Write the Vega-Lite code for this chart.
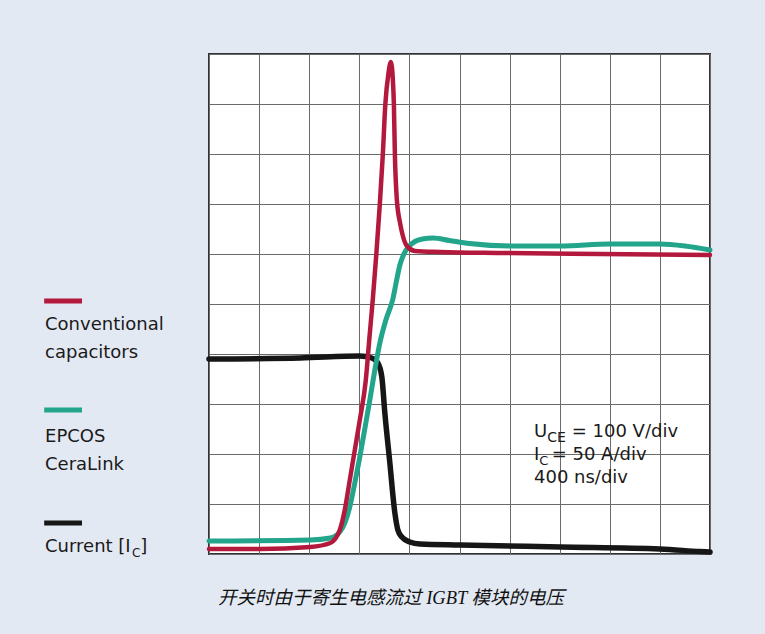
{
  "$schema": "https://vega.github.io/schema/vega-lite/v6.json",
  "width": 501,
  "height": 500,
  "autosize": {"type": "none"},
  "padding": {"left": 209, "top": 54, "right": 55, "bottom": 80},
  "background": "#e3e9f3",
  "config": {
    "view": {"fill": "#ffffff", "stroke": "#333333", "strokeWidth": 2},
    "axis": {"grid": true, "gridColor": "#6a6a6a", "gridWidth": 1, "gridOpacity": 1, "labels": false, "ticks": false, "domain": false, "title": null},
    "text": {"font": "DejaVu Sans", "fontSize": 18, "color": "#1a1a1a", "align": "left", "baseline": "middle"}
  },
  "datasets": {
    "traces": [
      {"series": "Current", "x": 0, "y": 3.9},
      {"series": "Current", "x": 1.82, "y": 3.92},
      {"series": "Current", "x": 3.01, "y": 3.96},
      {"series": "Current", "x": 3.25, "y": 3.92},
      {"series": "Current", "x": 3.37, "y": 3.82},
      {"series": "Current", "x": 3.45, "y": 3.54},
      {"series": "Current", "x": 3.51, "y": 2.82},
      {"series": "Current", "x": 3.61, "y": 1.82},
      {"series": "Current", "x": 3.71, "y": 0.82},
      {"series": "Current", "x": 3.77, "y": 0.48},
      {"series": "Current", "x": 3.85, "y": 0.34},
      {"series": "Current", "x": 4.01, "y": 0.24},
      {"series": "Current", "x": 4.21, "y": 0.2},
      {"series": "Current", "x": 5.01, "y": 0.18},
      {"series": "Current", "x": 7.01, "y": 0.14},
      {"series": "Current", "x": 9.0, "y": 0.1},
      {"series": "Current", "x": 9.8, "y": 0.05},
      {"series": "Current", "x": 10.0, "y": 0.04},

      {"series": "CeraLink", "x": 0, "y": 0.26},
      {"series": "CeraLink", "x": 2.02, "y": 0.28},
      {"series": "CeraLink", "x": 2.42, "y": 0.32},
      {"series": "CeraLink", "x": 2.61, "y": 0.44},
      {"series": "CeraLink", "x": 2.71, "y": 0.62},
      {"series": "CeraLink", "x": 2.81, "y": 0.94},
      {"series": "CeraLink", "x": 2.91, "y": 1.42},
      {"series": "CeraLink", "x": 3.01, "y": 1.94},
      {"series": "CeraLink", "x": 3.13, "y": 2.62},
      {"series": "CeraLink", "x": 3.21, "y": 3.08},
      {"series": "CeraLink", "x": 3.31, "y": 3.68},
      {"series": "CeraLink", "x": 3.41, "y": 4.22},
      {"series": "CeraLink", "x": 3.53, "y": 4.68},
      {"series": "CeraLink", "x": 3.67, "y": 5.1},
      {"series": "CeraLink", "x": 3.74, "y": 5.45},
      {"series": "CeraLink", "x": 3.81, "y": 5.78},
      {"series": "CeraLink", "x": 3.89, "y": 6.0},
      {"series": "CeraLink", "x": 3.99, "y": 6.15},
      {"series": "CeraLink", "x": 4.11, "y": 6.25},
      {"series": "CeraLink", "x": 4.26, "y": 6.3},
      {"series": "CeraLink", "x": 4.47, "y": 6.32},
      {"series": "CeraLink", "x": 4.8, "y": 6.27},
      {"series": "CeraLink", "x": 5.2, "y": 6.21},
      {"series": "CeraLink", "x": 6.01, "y": 6.16},
      {"series": "CeraLink", "x": 7.01, "y": 6.16},
      {"series": "CeraLink", "x": 8.0, "y": 6.2},
      {"series": "CeraLink", "x": 9.0, "y": 6.2},
      {"series": "CeraLink", "x": 9.5, "y": 6.16},
      {"series": "CeraLink", "x": 10.0, "y": 6.08},

      {"series": "Conventional", "x": 0, "y": 0.1},
      {"series": "Conventional", "x": 1.02, "y": 0.1},
      {"series": "Conventional", "x": 2.02, "y": 0.14},
      {"series": "Conventional", "x": 2.42, "y": 0.22},
      {"series": "Conventional", "x": 2.61, "y": 0.48},
      {"series": "Conventional", "x": 2.71, "y": 0.88},
      {"series": "Conventional", "x": 2.81, "y": 1.48},
      {"series": "Conventional", "x": 2.91, "y": 2.08},
      {"series": "Conventional", "x": 3.01, "y": 2.68},
      {"series": "Conventional", "x": 3.13, "y": 3.48},
      {"series": "Conventional", "x": 3.2, "y": 4.3},
      {"series": "Conventional", "x": 3.27, "y": 5.1},
      {"series": "Conventional", "x": 3.34, "y": 6.0},
      {"series": "Conventional", "x": 3.41, "y": 7.0},
      {"series": "Conventional", "x": 3.47, "y": 8.0},
      {"series": "Conventional", "x": 3.52, "y": 9.0},
      {"series": "Conventional", "x": 3.58, "y": 9.6},
      {"series": "Conventional", "x": 3.63, "y": 9.84},
      {"series": "Conventional", "x": 3.67, "y": 9.48},
      {"series": "Conventional", "x": 3.69, "y": 9.0},
      {"series": "Conventional", "x": 3.71, "y": 8.0},
      {"series": "Conventional", "x": 3.75, "y": 7.08},
      {"series": "Conventional", "x": 3.81, "y": 6.64},
      {"series": "Conventional", "x": 3.87, "y": 6.36},
      {"series": "Conventional", "x": 3.95, "y": 6.16},
      {"series": "Conventional", "x": 4.11, "y": 6.06},
      {"series": "Conventional", "x": 4.61, "y": 6.04},
      {"series": "Conventional", "x": 5.81, "y": 6.02},
      {"series": "Conventional", "x": 7.8, "y": 6.0},
      {"series": "Conventional", "x": 10.0, "y": 5.98}
    ]
  },
  "layer": [
    {
      "data": {"name": "traces"},
      "mark": {"type": "line", "interpolate": "monotone", "strokeCap": "round", "strokeJoin": "round"},
      "encoding": {
        "x": {"field": "x", "type": "quantitative", "scale": {"domain": [0, 10], "nice": false, "zero": false}, "axis": {"values": [0,1,2,3,4,5,6,7,8,9,10]}},
        "y": {"field": "y", "type": "quantitative", "scale": {"domain": [0, 10], "nice": false, "zero": false}, "axis": {"values": [0,1,2,3,4,5,6,7,8,9,10]}},
        "color": {"field": "series", "type": "nominal", "scale": {"domain": ["Conventional", "CeraLink", "Current"], "range": ["#b3193d", "#22a58b", "#161616"]}, "legend": null},
        "strokeWidth": {"field": "series", "type": "nominal", "scale": {"domain": ["Conventional", "CeraLink", "Current"], "range": [4.5, 5.5, 4.5]}, "legend": null},
        "order": {"field": "x", "type": "quantitative"},
        "detail": {"field": "series"}
      }
    },
    {
      "data": {"values": [{}]},
      "mark": {"type": "rule", "strokeWidth": 5, "color": "#b3193d"},
      "encoding": {"x": {"datum": -3.29}, "x2": {"datum": -2.535}, "y": {"datum": 5.06}}
    },
    {
      "data": {"values": [{}]},
      "mark": {"type": "rule", "strokeWidth": 5, "color": "#22a58b"},
      "encoding": {"x": {"datum": -3.29}, "x2": {"datum": -2.535}, "y": {"datum": 2.88}}
    },
    {
      "data": {"values": [{}]},
      "mark": {"type": "rule", "strokeWidth": 5, "color": "#161616"},
      "encoding": {"x": {"datum": -3.29}, "x2": {"datum": -2.535}, "y": {"datum": 0.62}}
    },
    {"data": {"values": [{}]}, "mark": {"type": "text", "text": "Conventional"}, "encoding": {"x": {"datum": -3.273}, "y": {"datum": 4.58}}},
    {"data": {"values": [{}]}, "mark": {"type": "text", "text": "capacitors"}, "encoding": {"x": {"datum": -3.273}, "y": {"datum": 4.02}}},
    {"data": {"values": [{}]}, "mark": {"type": "text", "text": "EPCOS"}, "encoding": {"x": {"datum": -3.273}, "y": {"datum": 2.34}}},
    {"data": {"values": [{}]}, "mark": {"type": "text", "text": "CeraLink"}, "encoding": {"x": {"datum": -3.273}, "y": {"datum": 1.78}}},
    {"data": {"values": [{}]}, "mark": {"type": "text", "text": "Current [I"}, "encoding": {"x": {"datum": -3.273}, "y": {"datum": 0.14}}},
    {"data": {"values": [{}]}, "mark": {"type": "text", "text": "C", "fontSize": 12}, "encoding": {"x": {"datum": -1.537}, "y": {"datum": 0.03}}},
    {"data": {"values": [{}]}, "mark": {"type": "text", "text": "]"}, "encoding": {"x": {"datum": -1.37}, "y": {"datum": 0.14}}},
    {"data": {"values": [{}]}, "mark": {"type": "text", "text": "U"}, "encoding": {"x": {"datum": 6.487}, "y": {"datum": 2.44}}},
    {"data": {"values": [{}]}, "mark": {"type": "text", "text": "CE", "fontSize": 14}, "encoding": {"x": {"datum": 6.751}, "y": {"datum": 2.33}}},
    {"data": {"values": [{}]}, "mark": {"type": "text", "text": "= 100 V/div"}, "encoding": {"x": {"datum": 7.24}, "y": {"datum": 2.44}}},
    {"data": {"values": [{}]}, "mark": {"type": "text", "text": "I"}, "encoding": {"x": {"datum": 6.487}, "y": {"datum": 1.98}}},
    {"data": {"values": [{}]}, "mark": {"type": "text", "text": "C", "fontSize": 13}, "encoding": {"x": {"datum": 6.593}, "y": {"datum": 1.87}}},
    {"data": {"values": [{}]}, "mark": {"type": "text", "text": "= 50 A/div"}, "encoding": {"x": {"datum": 6.84}, "y": {"datum": 1.98}}},
    {"data": {"values": [{}]}, "mark": {"type": "text", "text": "400 ns/div"}, "encoding": {"x": {"datum": 6.487}, "y": {"datum": 1.52}}},
    {"data": {"values": [{}]}, "mark": {"type": "text", "text": "开关时由于寄生电感流过 IGBT 模块的电压", "font": "'Liberation Serif', 'Noto Sans CJK SC'", "fontStyle": "italic", "fontSize": 18.5, "color": "#111111"}, "encoding": {"x": {"datum": 0.18}, "y": {"datum": -0.88}}}
  ]
}
